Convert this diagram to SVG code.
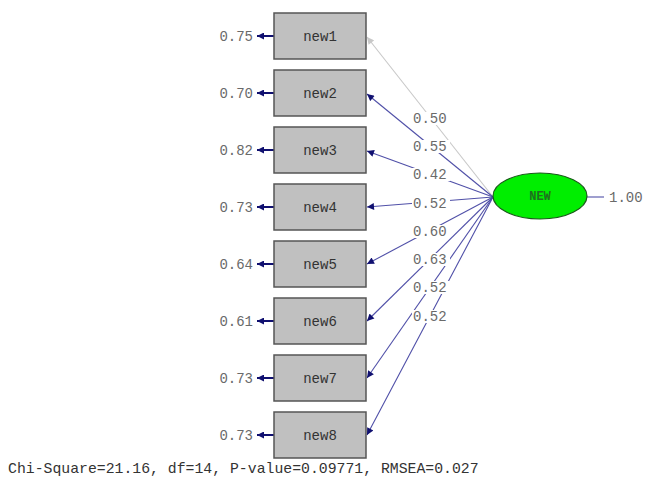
<svg xmlns="http://www.w3.org/2000/svg" width="647" height="491" viewBox="0 0 647 491">
<defs>
<style>
.box{fill:#c0c0c0;stroke:#555;stroke-width:1.5}
.nt{font-family:"Liberation Mono",monospace;font-size:14px;fill:#333;text-anchor:middle;dominant-baseline:central}
.lb{font-family:"Liberation Mono",monospace;font-size:14px;fill:#6a6a6a;dominant-baseline:central}
.ln{stroke:#5050a8;stroke-width:1.1;fill:none}
.lg{stroke:#c8c8c8;stroke-width:1.1;fill:none}
.er{stroke:#101070;stroke-width:2;fill:none}
.bg{fill:#fff}
</style>
<marker id="ah" viewBox="0 0 10 10" refX="10" refY="5" markerWidth="9" markerHeight="7" markerUnits="userSpaceOnUse" orient="auto"><path d="M0,0 L10,5 L0,10 Z" fill="#101070"/></marker>
<marker id="ahg" viewBox="0 0 10 10" refX="10" refY="5" markerWidth="9" markerHeight="7" markerUnits="userSpaceOnUse" orient="auto"><path d="M0,0 L10,5 L0,10 Z" fill="#c8c8c8"/></marker>
</defs>
<rect width="647" height="491" fill="#fff"/>
<g id="connectors">
<line class="lg" x1="493" y1="197" x2="367" y2="37" marker-end="url(#ahg)"/>
<line class="ln" x1="493" y1="197" x2="367" y2="94" marker-end="url(#ah)"/>
<line class="ln" x1="493" y1="197" x2="367" y2="151" marker-end="url(#ah)"/>
<line class="ln" x1="493" y1="197" x2="367" y2="207" marker-end="url(#ah)"/>
<line class="ln" x1="493" y1="197" x2="367" y2="264" marker-end="url(#ah)"/>
<line class="ln" x1="493" y1="197" x2="367" y2="321" marker-end="url(#ah)"/>
<line class="ln" x1="493" y1="197" x2="367" y2="378" marker-end="url(#ah)"/>
<line class="ln" x1="493" y1="197" x2="367" y2="435" marker-end="url(#ah)"/>
<g class="bg">
<rect x="412" y="112" width="38" height="13"/>
<rect x="412" y="140" width="38" height="13"/>
<rect x="412" y="168" width="38" height="13"/>
<rect x="412" y="197" width="38" height="13"/>
<rect x="412" y="225" width="38" height="13"/>
<rect x="412" y="253" width="38" height="13"/>
<rect x="412" y="281" width="38" height="13"/>
<rect x="412" y="310" width="38" height="13"/>
</g>
<g class="lb">
<text x="413" y="119">0.50</text>
<text x="413" y="147">0.55</text>
<text x="413" y="175">0.42</text>
<text x="413" y="204">0.52</text>
<text x="413" y="232">0.60</text>
<text x="413" y="260">0.63</text>
<text x="413" y="288">0.52</text>
<text x="413" y="317">0.52</text>
</g>
<line class="er" x1="274" y1="36" x2="257" y2="36" marker-end="url(#ah)"/>
<line class="er" x1="274" y1="93" x2="257" y2="93" marker-end="url(#ah)"/>
<line class="er" x1="274" y1="150" x2="257" y2="150" marker-end="url(#ah)"/>
<line class="er" x1="274" y1="207" x2="257" y2="207" marker-end="url(#ah)"/>
<line class="er" x1="274" y1="264" x2="257" y2="264" marker-end="url(#ah)"/>
<line class="er" x1="274" y1="321" x2="257" y2="321" marker-end="url(#ah)"/>
<line class="er" x1="274" y1="378" x2="257" y2="378" marker-end="url(#ah)"/>
<line class="er" x1="274" y1="435" x2="257" y2="435" marker-end="url(#ah)"/>
<line class="ln" x1="587" y1="197" x2="604" y2="197"/>
</g>
<g class="lb" text-anchor="end">
<text x="253" y="37">0.75</text>
<text x="253" y="94">0.70</text>
<text x="253" y="151">0.82</text>
<text x="253" y="208">0.73</text>
<text x="253" y="265">0.64</text>
<text x="253" y="322">0.61</text>
<text x="253" y="379">0.73</text>
<text x="253" y="436">0.73</text>
</g>
<text class="lb" x="609" y="198">1.00</text>
<g id="new1"><rect class="box" x="274" y="13" width="92" height="46"/><text class="nt" x="320" y="37">new1</text></g>
<g id="new2"><rect class="box" x="274" y="70" width="92" height="46"/><text class="nt" x="320" y="94">new2</text></g>
<g id="new3"><rect class="box" x="274" y="127" width="92" height="46"/><text class="nt" x="320" y="151">new3</text></g>
<g id="new4"><rect class="box" x="274" y="184" width="92" height="46"/><text class="nt" x="320" y="208">new4</text></g>
<g id="new5"><rect class="box" x="274" y="241" width="92" height="46"/><text class="nt" x="320" y="265">new5</text></g>
<g id="new6"><rect class="box" x="274" y="298" width="92" height="46"/><text class="nt" x="320" y="322">new6</text></g>
<g id="new7"><rect class="box" x="274" y="355" width="92" height="46"/><text class="nt" x="320" y="379">new7</text></g>
<g id="new8"><rect class="box" x="274" y="412" width="92" height="46"/><text class="nt" x="320" y="436">new8</text></g>
<g id="NEW"><ellipse cx="540" cy="196" rx="47" ry="23" fill="#00ee00" stroke="#1a5a1a" stroke-width="1.2"/><text x="540" y="197" font-family="Liberation Mono, monospace" font-size="12" font-weight="bold" fill="#1f6f1f" text-anchor="middle" dominant-baseline="central">NEW</text></g>
<text x="8" y="469" font-family="Liberation Mono, monospace" font-size="14.8" fill="#333" dominant-baseline="central">Chi-Square=21.16, df=14, P-value=0.09771, RMSEA=0.027</text>
</svg>
